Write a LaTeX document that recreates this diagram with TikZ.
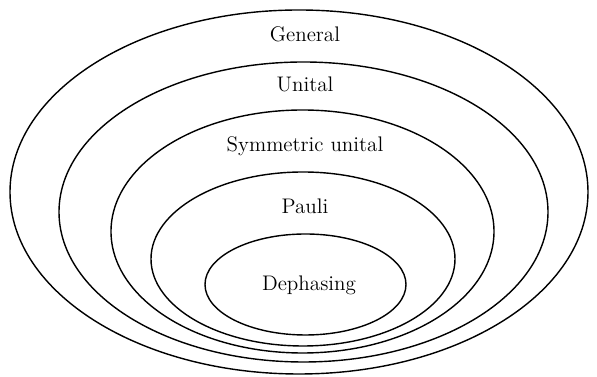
\documentclass[tikz,border=0pt]{standalone}
\usetikzlibrary{positioning}

\begin{document}
\begin{tikzpicture}[set/.style={draw,thick},lbl/.style={font=\large}]
\useasboundingbox (0,0) rectangle (11.94,7.54);
\draw[set] (5.98,3.70) ellipse (5.78 and 3.64);
\draw[set] (6.07,3.30) ellipse (4.89 and 3.00);
\draw[set] (6.05,2.91) ellipse (3.83 and 2.43);
\draw[set] (6.06,2.36) ellipse (3.04 and 1.74);
\draw[set] (6.11,1.85) ellipse (2.01 and 1.01);
\node[lbl] (general) at (6.10,6.86) {General};
\node[lbl] (unital) at (6.10,5.86) {Unital};
\node[lbl] (symunital) at (6.10,4.62) {Symmetric unital};
\node[lbl] (pauli) at (6.10,3.42) {Pauli};
\node[lbl] (dephasing) at (6.18,1.84) {Dephasing};
\end{tikzpicture}
\end{document}
